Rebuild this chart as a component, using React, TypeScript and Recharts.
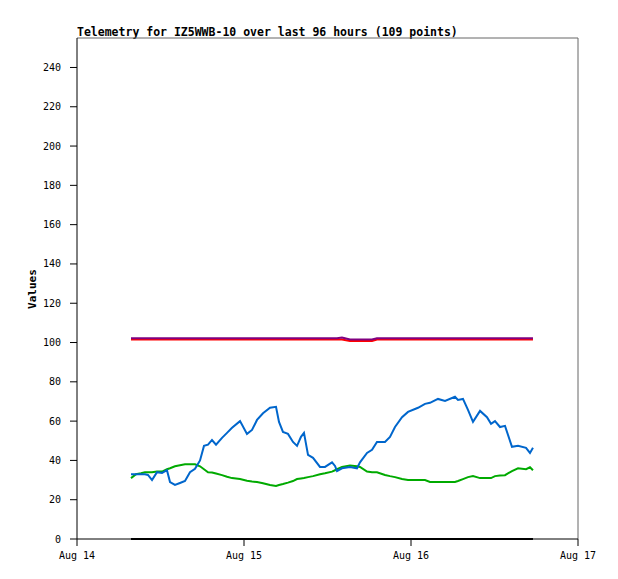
import { LineChart, Line, XAxis, YAxis, ReferenceLine } from "recharts";

// Hours since Aug 14 00:00
const HOURS = [
  7.76, 8.48, 9.2, 9.77, 10.2, 10.78, 11.5, 12.22, 12.93, 13.37,
  14.08, 14.8, 15.52, 16.24, 16.96, 17.68, 18.25, 18.83, 19.4, 19.98,
  20.84, 21.56, 22.28, 23.43, 24.43, 25.15, 25.87, 26.73, 27.74, 28.6,
  29.03, 29.6, 30.32, 31.04, 31.62, 32.19, 32.62, 33.2, 33.92, 34.92,
  35.64, 36.65, 37.08, 37.37, 38.08, 39.23, 40.24, 40.67, 41.68, 42.4,
  43.11, 44.26, 44.98, 45.7, 46.71, 47.57, 49.01, 50.01, 50.73, 51.88,
  52.89, 54.32, 54.75, 55.47, 56.19, 56.91, 57.92, 58.92, 59.5, 60.07,
  60.79, 61.51, 62.51, 63.38, 64.53, 65.1, 65.53,
];

const BLUE = [
  33, 33, 33, 33, 32.6, 30, 34, 33.6, 35, 29,
  27.5, 28.5, 29.5, 34, 35.7, 40, 47.4, 48, 50.4, 48,
  51.5, 54, 56.6, 60, 53.5, 55.5, 60.6, 64, 66.8, 67.3,
  59.6, 54.5, 53.5, 49.4, 47.4, 52, 54, 42.8, 41.3, 36.7,
  36.7, 39, 37.2, 34.6, 36, 36.7, 36, 39, 43.8, 45.4,
  49.4, 49.4, 52, 57, 62, 64.7, 66.8, 68.8, 69.3, 71.3,
  70.3, 72.4, 70.8, 71.3, 65.7, 59.6, 65.2, 62, 58.6, 60,
  57, 57.6, 46.9, 47.4, 46.4, 43.8, 46.4,
];

const GREEN = [
  31, 33, 33.5, 34, 34, 34, 34.3, 34.3, 35.5, 36,
  37, 37.5, 38, 38, 38, 37, 35.5, 34, 33.8, 33.3,
  32.5, 31.7, 31, 30.5, 29.7, 29.3, 29, 28.4, 27.5, 27,
  27.5, 28, 28.7, 29.5, 30.5, 30.8, 31, 31.5, 32, 33,
  33.5, 34.3, 35, 35.5, 36.7, 37.4, 37, 36.7, 34.3, 34,
  34, 32.6, 32, 31.5, 30.5, 30, 30, 30, 29, 29,
  29, 29, 29.5, 30.5, 31.5, 32, 31, 31, 31, 32,
  32.3, 32.5, 34.6, 36, 35.5, 36.5, 35,
];

const RED = [
  101.5, 101.5, 101.5, 101.5, 101.5, 101.5, 101.5, 101.5, 101.5, 101.5,
  101.5, 101.5, 101.5, 101.5, 101.5, 101.5, 101.5, 101.5, 101.5, 101.5,
  101.5, 101.5, 101.5, 101.5, 101.5, 101.5, 101.5, 101.5, 101.5, 101.5,
  101.5, 101.5, 101.5, 101.5, 101.5, 101.5, 101.5, 101.5, 101.5, 101.5,
  101.5, 101.5, 101.5, 101.5, 101.5, 100.8, 100.8, 100.8, 100.8, 100.8,
  101.5, 101.5, 101.5, 101.5, 101.5, 101.5, 101.5, 101.5, 101.5, 101.5,
  101.5, 101.5, 101.5, 101.5, 101.5, 101.5, 101.5, 101.5, 101.5, 101.5,
  101.5, 101.5, 101.5, 101.5, 101.5, 101.5, 101.5,
];

const PURPLE = [
  102.2, 102.2, 102.2, 102.2, 102.2, 102.2, 102.2, 102.2, 102.2, 102.2,
  102.2, 102.2, 102.2, 102.2, 102.2, 102.2, 102.2, 102.2, 102.2, 102.2,
  102.2, 102.2, 102.2, 102.2, 102.2, 102.2, 102.2, 102.2, 102.2, 102.2,
  102.2, 102.2, 102.2, 102.2, 102.2, 102.2, 102.2, 102.2, 102.2, 102.2,
  102.2, 102.2, 102.2, 102.2, 102.6, 101.5, 101.5, 101.5, 101.5, 101.5,
  102.2, 102.2, 102.2, 102.2, 102.2, 102.2, 102.2, 102.2, 102.2, 102.2,
  102.2, 102.2, 102.2, 102.2, 102.2, 102.2, 102.2, 102.2, 102.2, 102.2,
  102.2, 102.2, 102.2, 102.2, 102.2, 102.2, 102.2,
];

const BLACK = HOURS.map(() => 0);

const X_TICKS = [0, 24, 48, 72];
const X_LABELS = ["Aug 14", "Aug 15", "Aug 16", "Aug 17"];
const Y_TICKS = [0, 20, 40, 60, 80, 100, 120, 140, 160, 180, 200, 220, 240];

const data = HOURS.map((h, i) => ({
  h,
  black: BLACK[i],
  red: RED[i],
  purple: PURPLE[i],
  blue: BLUE[i],
  green: GREEN[i],
}));

const mono = "'DejaVu Sans Mono', monospace";

export default function App() {
  return (
    <div style={{ position: "absolute", left: 0, top: 0, width: 618, height: 579, background: "#fff" }}>
      <div
        style={{
          position: "absolute",
          left: 77,
          top: 25,
          fontFamily: mono,
          fontWeight: "bold",
          fontSize: 11.5,
          lineHeight: "14px",
          whiteSpace: "nowrap",
        }}
      >
        Telemetry for IZ5WWB-10 over last 96 hours (109 points)
      </div>
      <div
        style={{
          position: "absolute",
          left: 32,
          top: 289,
          transform: "translate(-50%, -50%) rotate(-90deg)",
          fontFamily: mono,
          fontWeight: "bold",
          fontSize: 11,
          whiteSpace: "nowrap",
        }}
      >
        Values
      </div>
      <LineChart width={618} height={579} data={data} margin={{ top: 38, right: 40, bottom: 0, left: 0 }}>
        <XAxis
          dataKey="h"
          type="number"
          domain={[0, 72]}
          ticks={X_TICKS}
          tickFormatter={(v: number) => X_LABELS[X_TICKS.indexOf(v)]}
          height={40}
          tickSize={7}
          tickMargin={6}
          stroke="#000"
          tick={{ fill: "#000", fontFamily: mono, fontSize: 10 }}
          interval={0}
        />
        <YAxis
          type="number"
          domain={[0, 255]}
          ticks={Y_TICKS}
          width={77}
          tickSize={7}
          tickMargin={9}
          stroke="#000"
          tick={{ fill: "#000", fontFamily: mono, fontSize: 10 }}
          interval={0}
        />
        <ReferenceLine y={255} stroke="#666" />
        <ReferenceLine x={72} stroke="#666" />
        <Line dataKey="black" stroke="#000" strokeWidth={2} dot={false} isAnimationActive={false} />
        <Line dataKey="red" stroke="#ff0000" strokeWidth={2} dot={false} isAnimationActive={false} />
        <Line dataKey="purple" stroke="#800080" strokeWidth={2} dot={false} isAnimationActive={false} />
        <Line dataKey="green" type="linear" stroke="#00aa00" strokeWidth={2} dot={false} isAnimationActive={false} />
        <Line dataKey="blue" type="linear" stroke="#0066cc" strokeWidth={2} dot={false} isAnimationActive={false} />
      </LineChart>
    </div>
  );
}
